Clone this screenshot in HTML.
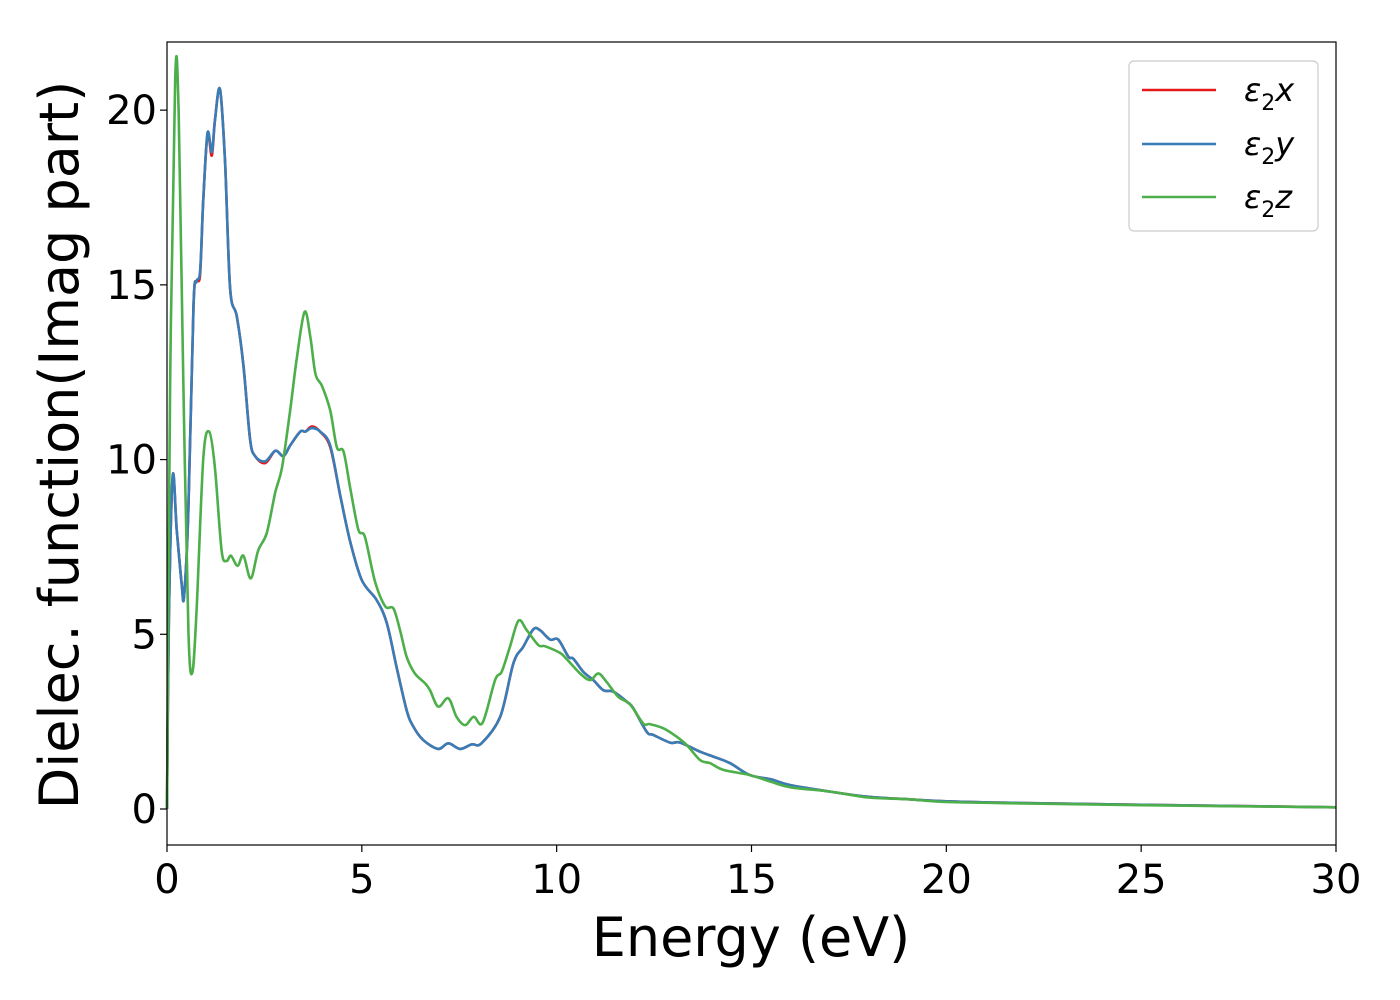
<!DOCTYPE html>
<html><head><meta charset="utf-8"><style>
html,body{margin:0;padding:0;background:#fff;}
svg{display:block;font-family:"DejaVu Sans","Liberation Sans",sans-serif;}
</style></head><body>
<svg id="chart" width="1400" height="1000" viewBox="0 0 1400 1000" xmlns="http://www.w3.org/2000/svg">
<rect x="167" y="42" width="1169" height="803" fill="#fff"/>
<g id="series"></g>
<rect x="167" y="42" width="1169" height="803" fill="none" stroke="#000" stroke-width="1.2"/>
<g id="xticks"></g>
<g id="yticks"></g>
<text x="751" y="956" font-size="54" text-anchor="middle">Energy (eV)</text>
<text transform="translate(78,445) rotate(-90)" font-size="54" text-anchor="middle">Dielec. function(Imag part)</text>
<g>
<rect x="1129" y="61" width="189" height="170" rx="5" fill="#fff" stroke="#ccc" stroke-width="1.2"/>
<g><line x1="1142" y1="90" x2="1216" y2="90" stroke="#e41a1c" stroke-width="2.5"/><text x="1244" y="101" font-size="32" font-style="italic">ε<tspan font-size="22" font-style="normal" dy="9">2</tspan><tspan dy="-9">x</tspan></text></g>
<g><line x1="1142" y1="144" x2="1216" y2="144" stroke="#377eb8" stroke-width="2.5"/><text x="1244" y="155" font-size="32" font-style="italic">ε<tspan font-size="22" font-style="normal" dy="9">2</tspan><tspan dy="-9">y</tspan></text></g>
<g><line x1="1142" y1="197" x2="1216" y2="197" stroke="#4daf4a" stroke-width="2.5"/><text x="1244" y="208" font-size="32" font-style="italic">ε<tspan font-size="22" font-style="normal" dy="9">2</tspan><tspan dy="-9">z</tspan></text></g>
</g>
</svg>
<script>
const energyXY = [0,0.05,0.146,0.25,0.38,0.44,0.55,0.68,0.76,0.85,0.93,1.04,1.15,1.23,1.36,1.49,1.62,1.79,1.96,2.13,2.26,2.52,2.78,2.99,3.16,3.42,3.55,3.72,3.93,4.19,4.45,4.7,5.0,5.38,5.64,5.89,6.15,6.32,6.58,6.96,7.22,7.52,7.82,8.07,8.55,8.89,9.14,9.4,9.57,9.83,10.04,10.3,10.43,10.68,10.94,11.2,11.45,11.8,11.97,12.31,12.48,12.91,13.17,13.68,14.02,14.45,14.96,15.5,16,17,18,19,20,22,25,30];
const eps2y = [0,5.5,9.53,8.0,6.4,6.1,8.6,14.4,15.1,15.4,17.4,19.35,18.8,19.7,20.6,18.5,14.9,14.1,12.7,10.6,10.1,9.95,10.25,10.1,10.4,10.8,10.8,10.9,10.8,10.4,8.95,7.66,6.55,5.98,5.32,4.07,2.83,2.36,1.97,1.72,1.88,1.72,1.85,1.88,2.64,4.17,4.64,5.14,5.12,4.85,4.85,4.36,4.3,3.93,3.69,3.4,3.36,3.07,2.88,2.21,2.12,1.9,1.9,1.64,1.5,1.31,0.97,0.85,0.68,0.5,0.35,0.28,0.22,0.17,0.12,0.05];
const eps2x = [0,5.5,9.53,8.0,6.4,6.1,8.6,14.4,15.1,15.3,17.4,19.3,18.7,19.7,20.6,18.5,14.9,14.1,12.7,10.6,10.1,9.9,10.25,10.1,10.4,10.8,10.8,10.95,10.8,10.35,8.95,7.66,6.55,5.98,5.32,4.07,2.83,2.36,1.97,1.72,1.88,1.72,1.85,1.88,2.64,4.17,4.64,5.14,5.12,4.85,4.85,4.36,4.3,3.93,3.69,3.4,3.36,3.07,2.88,2.21,2.12,1.9,1.9,1.64,1.5,1.31,0.97,0.85,0.68,0.5,0.35,0.28,0.22,0.17,0.12,0.05];
const energyZ = [0,0.08,0.21,0.3,0.42,0.55,0.65,0.76,0.93,1.08,1.23,1.4,1.53,1.64,1.81,1.96,2.15,2.34,2.56,2.78,2.95,3.16,3.33,3.53,3.68,3.81,3.98,4.19,4.36,4.53,4.7,4.91,5.08,5.34,5.6,5.81,5.98,6.15,6.36,6.62,6.75,6.96,7.22,7.43,7.65,7.87,8.1,8.42,8.59,8.8,9.02,9.23,9.53,9.7,10.08,10.25,10.6,10.86,11.07,11.28,11.58,11.88,12.22,12.39,12.74,13.08,13.34,13.68,13.94,14.28,14.96,15.5,16,17,18,19,20,22,25,30];
const eps2z = [0,12.1,20.9,19.9,12.1,5.1,3.9,5.7,10,10.8,9.77,7.4,7.1,7.25,6.96,7.25,6.6,7.4,7.9,9.07,9.77,11.4,12.9,14.23,13.5,12.45,12.1,11.4,10.35,10.23,9.2,8.0,7.78,6.5,5.8,5.74,5.12,4.36,3.88,3.6,3.4,2.93,3.17,2.64,2.4,2.64,2.47,3.69,3.93,4.64,5.39,5.12,4.69,4.66,4.47,4.3,3.88,3.69,3.88,3.64,3.21,3.0,2.45,2.43,2.31,2.07,1.83,1.4,1.31,1.12,0.97,0.78,0.62,0.5,0.33,0.28,0.2,0.16,0.11,0.05];
const xTicks = [0,5,10,15,20,25,30];
const yTicks = [0,5,10,15,20];

const X0=167, X1=1336, Y0=845, Y1=42, xMin=0, xMax=30, yMin=-1.03, yMax=21.95;
function sx(v){return X0+(v-xMin)/(xMax-xMin)*(X1-X0);}
function sy(v){return Y0-(v-yMin)/(yMax-yMin)*(Y0-Y1);}
const NS="http://www.w3.org/2000/svg";
function pathFor(xs,ys){
  const p=xs.map((x,i)=>[sx(x),sy(ys[i])]);
  let d="M"+p[0][0].toFixed(1)+","+p[0][1].toFixed(1);
  for(let i=0;i<p.length-1;i++){
    const a=p[Math.max(i-1,0)],b=p[i],c=p[i+1],e=p[Math.min(i+2,p.length-1)];
    const c1=[b[0]+(c[0]-a[0])/6,b[1]+(c[1]-a[1])/6];
    const c2=[c[0]-(e[0]-b[0])/6,c[1]-(e[1]-b[1])/6];
    d+=" C"+c1[0].toFixed(1)+","+c1[1].toFixed(1)+" "+c2[0].toFixed(1)+","+c2[1].toFixed(1)+" "+c[0].toFixed(1)+","+c[1].toFixed(1);
  }
  return d;
}
const g=document.getElementById("series");
const sr=document.createElementNS(NS,"path");


sr.setAttribute("d",pathFor(energyXY,eps2x));sr.setAttribute("fill","none");sr.setAttribute("stroke","#e41a1c");sr.setAttribute("stroke-width","2.6");
g.appendChild(sr);
const sb=document.createElementNS(NS,"path");


sb.setAttribute("d",pathFor(energyXY,eps2y));sb.setAttribute("fill","none");sb.setAttribute("stroke","#377eb8");sb.setAttribute("stroke-width","2.6");
g.appendChild(sb);
const sg=document.createElementNS(NS,"path");


sg.setAttribute("d",pathFor(energyZ,eps2z));sg.setAttribute("fill","none");sg.setAttribute("stroke","#4daf4a");sg.setAttribute("stroke-width","2.6");
g.appendChild(sg);

const xg=document.getElementById("xticks");
xTicks.forEach(t=>{
  const l=document.createElementNS(NS,"line");
  
  
  l.setAttribute("x1",sx(t));l.setAttribute("x2",sx(t));l.setAttribute("y1",Y0);l.setAttribute("y2",Y0+7);l.setAttribute("stroke","#000");l.setAttribute("stroke-width","1.2");
  xg.appendChild(l);
  const tx=document.createElementNS(NS,"text");
  
  
  tx.setAttribute("x",sx(t));tx.setAttribute("y",893);tx.setAttribute("font-size","40");tx.setAttribute("text-anchor","middle");
  tx.textContent=t;xg.appendChild(tx);
});
const yg=document.getElementById("yticks");
yTicks.forEach(t=>{
  const l=document.createElementNS(NS,"line");
  
  
  l.setAttribute("x1",X0-7);l.setAttribute("x2",X0);l.setAttribute("y1",sy(t));l.setAttribute("y2",sy(t));l.setAttribute("stroke","#000");l.setAttribute("stroke-width","1.2");
  yg.appendChild(l);
  const tx=document.createElementNS(NS,"text");
  
  
  tx.setAttribute("x",157);tx.setAttribute("y",sy(t)+14);tx.setAttribute("font-size","40");tx.setAttribute("text-anchor","end");
  tx.textContent=t;yg.appendChild(tx);
});
</script>
</body></html>
